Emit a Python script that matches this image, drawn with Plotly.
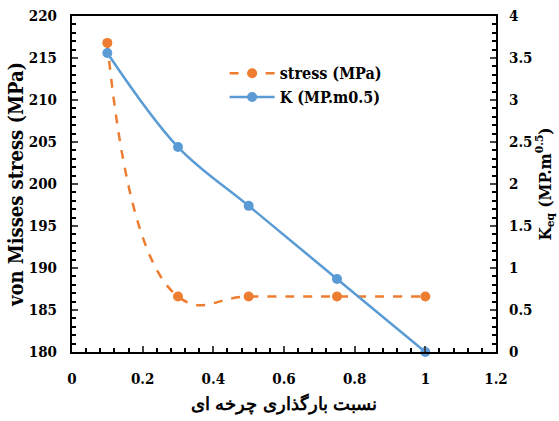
import plotly.graph_objects as go
from plotly.subplots import make_subplots

x_vals = [0.1, 0.3, 0.5, 0.75, 1.0]
stress = [216.8, 186.6, 186.6, 186.6, 186.6]
k_vals = [3.56, 2.44, 1.74, 0.87, 0.0]

SERIF = "DejaVu Serif Condensed, DejaVu Serif"
orange = "#ED7D31"
blue = "#5B9BD5"

fig = make_subplots(specs=[[{"secondary_y": True}]])
fig.add_trace(go.Scatter(x=x_vals, y=stress, name="stress (MPa)", mode="lines+markers",
                         line=dict(color=orange, width=2.5, dash="dash", shape="spline", smoothing=1.3),
                         marker=dict(size=10, color=orange)), secondary_y=False)
fig.add_trace(go.Scatter(x=x_vals, y=k_vals, name="K (MP.m0.5)", mode="lines+markers",
                         line=dict(color=blue, width=2.5, shape="spline", smoothing=1),
                         marker=dict(size=10, color=blue), cliponaxis=False), secondary_y=True)

tickfont = dict(family=SERIF, size=15, color="black", weight="bold")
fig.update_xaxes(domain=[0, 1], range=[0, 1.2], dtick=0.2, tickformat="~g", ticks="inside", ticklen=6, tickwidth=1.5,
                 showline=True, linecolor="black", linewidth=2, mirror=True, showgrid=False, zeroline=False,
                 minor=dict(dtick=0.04, ticks="inside", ticklen=4, tickcolor="black"),
                 tickfont=tickfont, ticklabelstandoff=12, automargin=False,
                 title=dict(text="نسبت بارگذاری چرخه ای", font=dict(family=SERIF, size=18, color="black", weight="bold"), standoff=10))
fig.update_yaxes(range=[180, 220], dtick=5, ticks="inside", ticklen=6, tickwidth=1.5,
                 showline=True, linecolor="black", linewidth=2, mirror=True, showgrid=False, zeroline=False,
                 minor=dict(dtick=1, ticks="inside", ticklen=4, tickcolor="black"),
                 tickfont=tickfont, ticklabelstandoff=10, automargin=False,
                 title=dict(text="von Misses stress (MPa)", font=dict(family=SERIF, size=20, color="black", weight="bold"), standoff=0),
                 secondary_y=False)
fig.update_yaxes(range=[0, 4], dtick=0.5, tickformat="~g", ticks="inside", ticklen=6, tickwidth=1.5,
                 showline=True, linecolor="black", linewidth=2, showgrid=False, zeroline=False,
                 minor=dict(dtick=0.1, ticks="inside", ticklen=4, tickcolor="black"),
                 tickfont=tickfont, ticklabelstandoff=8, automargin=False,
                 title=dict(text="K<sub>eq</sub> (MP.m<sup>0.5</sup>)", font=dict(family=SERIF, size=17, color="black", weight="bold"), standoff=0),
                 secondary_y=True)

fig.update_layout(
    width=559, height=421,
    margin=dict(l=72, r=63, t=16, b=69),
    plot_bgcolor="white", paper_bgcolor="white",
    font=dict(family=SERIF, color="black"),
    legend=dict(x=0.36, y=0.88, xanchor="left", yanchor="top", bgcolor="rgba(0,0,0,0)", itemwidth=45,
                font=dict(family=SERIF, size=16, color="black", weight="bold"), tracegroupgap=0),
    showlegend=True,
)
fig.write_html("out.html")
